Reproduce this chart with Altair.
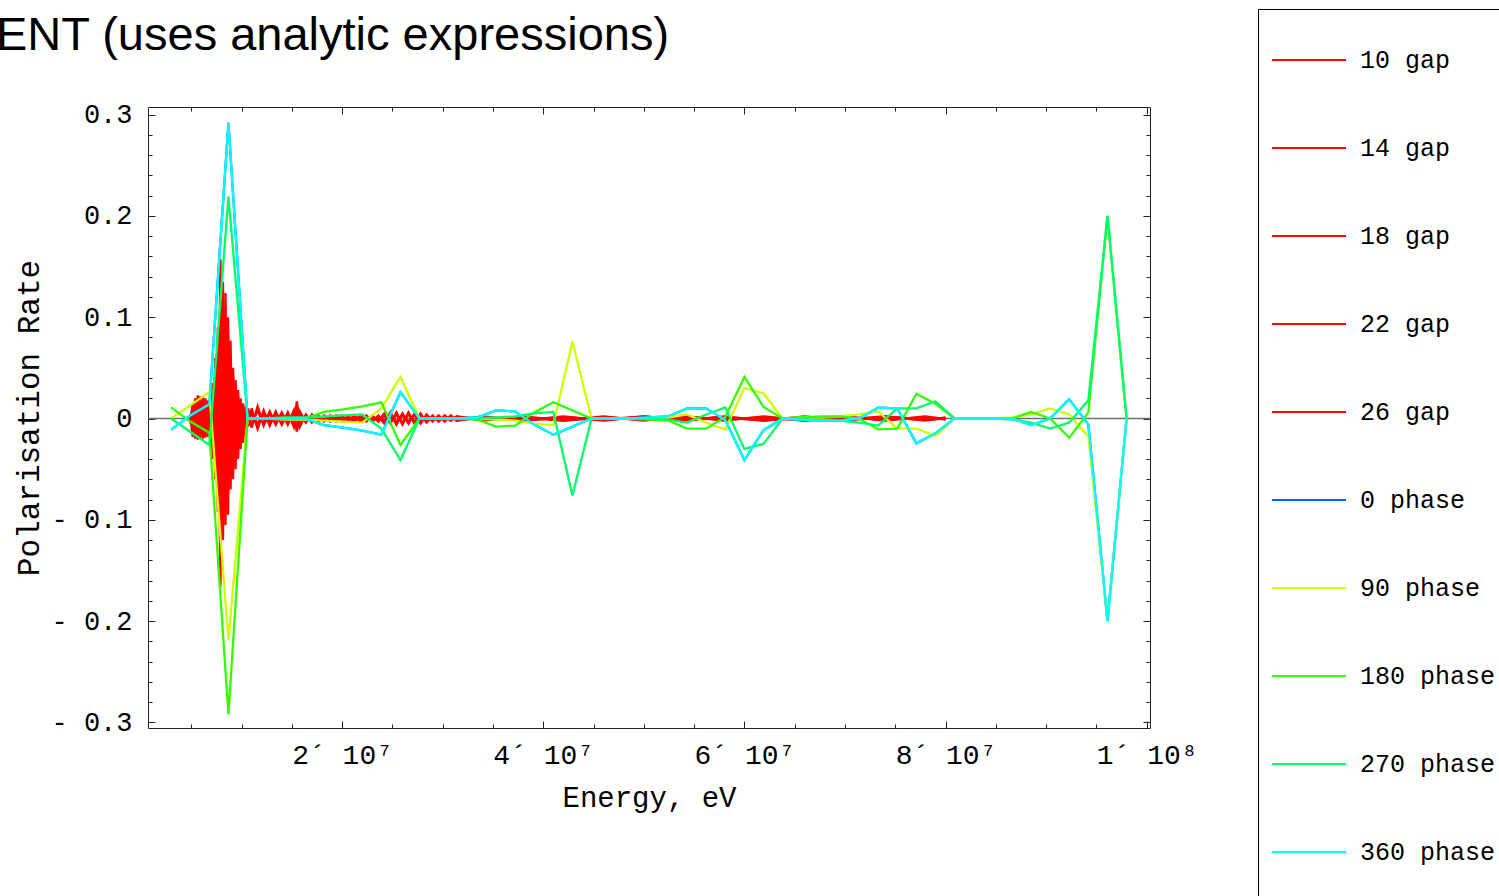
import altair as alt
import pandas as pd

# ---------------------------------------------------------------- data ----
# Phase scan: energy grid (MeV) and polarisation rate per phase setting
phase_energy_mev = [3.0, 4.9, 6.8, 8.7, 10.6, 12.5, 14.4, 16.3, 18.2, 20.1,
                    22.0, 23.9, 25.8, 27.7, 29.6, 31.5, 33.4, 35.3, 37.2, 39.1,
                    41.0, 42.9, 44.8, 46.7, 48.6, 50.5, 52.4, 54.3, 56.2, 58.1,
                    60.0, 61.9, 63.8, 65.7, 67.6, 69.5, 71.4, 73.3, 75.2, 77.1,
                    79.0, 80.9, 82.8, 84.7, 86.6, 88.5, 90.4, 92.3, 94.2, 96.1,
                    98.0]

phase_0 = [-0.011, 0.003, 0.014, 0.292, 0.0, 0.0, 0.0, 0.0, -0.0066, -0.009,
           -0.012, -0.016, 0.026, 0.0, 0.0, 0.0, 0.001, 0.008, 0.007, -0.006,
           -0.016, -0.008, 0.0, 0.0, 0.0, 0.001, 0.002, 0.010, 0.010, -0.0015,
           -0.041, -0.0115, 0.0, -0.001, -0.002, -0.002, 0.0, 0.0107, 0.010, -0.0245,
           -0.0146, 0.0, 0.0, 0.0, 0.0, -0.0064, 0.0, 0.019, -0.006, -0.200,
           0.0]
phase_90 = [0.0, 0.013, 0.026, -0.219, 0.0, 0.0, -0.001, -0.001, -0.002, -0.003,
            -0.004, 0.010, 0.041, 0.0, 0.0, 0.0, 0.0, -0.001, -0.002, -0.005,
            -0.0065, 0.076, 0.0, 0.0, 0.0, 0.0, 0.001, 0.004, -0.004, -0.011,
            0.030, 0.025, 0.0, 0.001, 0.001, 0.002, 0.004, 0.007, -0.010, -0.010,
            -0.017, 0.0, 0.0, 0.0, 0.001, 0.004, 0.010, 0.004, -0.018, -0.200,
            0.0]
phase_180 = [0.011, -0.003, -0.014, -0.292, 0.0, 0.0, 0.0, 0.0, 0.0066, 0.009,
             0.012, 0.016, -0.026, 0.0, 0.0, 0.0, -0.001, -0.008, -0.007, 0.006,
             0.016, 0.008, 0.0, 0.0, 0.0, -0.001, -0.002, -0.010, -0.010, 0.0015,
             0.041, 0.0115, 0.0, 0.001, 0.002, 0.002, 0.0, -0.0107, -0.010, 0.0245,
             0.0146, 0.0, 0.0, 0.0, 0.0, 0.0064, 0.0, -0.019, 0.006, 0.200,
             0.0]
phase_270 = [0.0, -0.013, -0.026, 0.219, 0.0, 0.0, 0.001, 0.001, 0.002, 0.003,
             0.004, -0.010, -0.041, 0.0, 0.0, 0.0, 0.0, 0.001, 0.002, 0.005,
             0.0065, -0.076, 0.0, 0.0, 0.0, 0.0, -0.001, -0.004, 0.004, 0.011,
             -0.030, -0.025, 0.0, -0.001, -0.001, -0.002, -0.004, -0.007, 0.010, 0.010,
             0.017, 0.0, 0.0, 0.0, -0.001, -0.004, -0.010, -0.004, 0.018, 0.200,
             0.0]
phase_360 = [-0.011, 0.003, 0.014, 0.292, 0.0, 0.0, 0.0, 0.0, -0.0066, -0.009,
             -0.012, -0.016, 0.026, 0.0, 0.0, 0.0, 0.001, 0.008, 0.007, -0.006,
             -0.016, -0.008, 0.0, 0.0, 0.0, 0.001, 0.002, 0.010, 0.010, -0.0015,
             -0.041, -0.0115, 0.0, -0.001, -0.002, -0.002, 0.0, 0.0107, 0.010, -0.0245,
             -0.0146, 0.0, 0.0, 0.0, 0.0, -0.0064, 0.0, 0.019, -0.006, -0.200,
             0.0]

# Gap scan: energy grid (MeV) and polarisation rate in units of 1e-3
gap_energy_burst = [4.90, 5.15, 5.40, 5.65, 5.90, 6.15, 6.40, 6.65, 6.90, 7.15,
                    7.40, 7.65, 7.90, 8.15, 8.40, 8.65, 8.90, 9.15, 9.40, 9.65,
                    9.90, 10.15, 10.40, 10.65]
gap_energy_mid = [11.0, 11.6, 12.2, 12.8, 13.4, 14.0, 14.6, 15.2, 15.5, 15.8,
                  16.4, 17.0, 17.6, 18.2, 18.8, 19.4, 20.0, 20.6, 21.2, 21.8,
                  22.4, 23.0, 23.6, 24.2, 24.8, 25.4, 26.0, 26.6, 27.2, 27.8,
                  28.4, 29.0, 29.6, 30.2, 30.8, 31.4]
gap_energy_tail = [34, 38, 42, 46, 50, 54, 58, 62, 66, 70, 74, 78, 80]
gap_energy_mev = gap_energy_burst + gap_energy_mid + gap_energy_tail

gap_10 = [3, -18, 20, -21, 22, -20, 20, -18, 17, -40, 60, -92, 157, -120, 124, -95,
          77, -60, 38, -40, 20, -24, 12, -8,
          10, -10, 8, -7, 7, -6, 6, -8, 17, -8, 4, -4, 3, -3, 3, -3, 3, -3, 3, -3,
          3, -3, 3, -5, 6, -6, 5, -5, 5, -5, 4, -3, 3, -3, 3, -2,
          2, -2, 2, -2, 2, -2, 2, -2, 2, -2, 2, -2, 1]
gap_14 = [-5, 15, -20, 23, -20, 21, -19, 18, -22, 35, -60, 90, -166, 135, -105, 100,
          -70, 50, -50, 28, -30, 15, -15, 10,
          -9, 12, -7, 7, -6, 6, -6, 8, -13, 7, -4, 4, -4, 3, -3, 3, -3, 2, -3, 3,
          -3, 3, -3, 5, -5, 6, -6, 6, -5, 5, -4, 3, -3, 3, -2, 2,
          -2, 2, -2, 2, -2, 2, -2, 2, -2, 2, -2, 2, -1]
gap_18 = [0, 10, -14, 16, -15, 14, -13, 12, -12, 25, -45, 70, -110, 110, -90, 85,
          -55, 45, -40, 22, -22, 12, -10, 6,
          7, -8, 6, -5, 5, -5, 4, -6, 12, -6, 3, -3, 2, -2, 2, -2, 2, -2, 2, -2,
          2, -2, 2, -4, 4, -4, 4, -4, 4, -4, 3, -2, 2, -2, 2, -2,
          1, -2, 1, -1, 2, -1, 1, -2, 1, -1, 2, -1, 0]
gap_22 = [4, -12, 15, -16, 17, -15, 16, -14, 12, -30, 45, -70, 120, -100, 100, -75,
          60, -45, 30, -30, 16, -18, 9, -6,
          -6, 8, -5, 5, -4, 4, -4, 5, -9, 5, -3, 3, -3, 2, -2, 2, -2, 2, -2, 2,
          -2, 2, -2, 3, -4, 4, -4, 4, -3, 3, -3, 2, -2, 2, -2, 2,
          -1, 1, -2, 1, -1, 2, -1, 1, -2, 1, -1, 1, 0]
gap_26 = [-3, 8, -10, 11, -10, 10, -10, 9, -8, 20, -30, 50, -80, 90, -70, 70,
          -45, 35, -30, 18, -20, 10, -10, 6,
          4, -5, 4, -3, 3, -3, 3, -4, 8, -4, 2, -2, 2, -1, 1, -1, 1, -1, 1, -1,
          1, -1, 1, -2, 3, -3, 3, -3, 3, -3, 2, -1, 1, -1, 1, -1,
          1, -1, 1, -1, 1, -1, 1, -1, 1, -1, 1, -1, 0]

gap_names = ["10 gap", "14 gap", "18 gap", "22 gap", "26 gap"]
gap_series = [gap_10, gap_14, gap_18, gap_22, gap_26]
phase_names = ["0 phase", "90 phase", "180 phase", "270 phase", "360 phase"]
phase_series = [phase_0, phase_90, phase_180, phase_270, phase_360]

series_colors = ["#ff0000", "#ff0000", "#ff0000", "#ff0000", "#ff0000",
                 "#0066ff", "#ccff00", "#33ff00", "#00ff66", "#00ffff"]

# axis ticks and labels
x_major = [2e7, 4e7, 6e7, 8e7, 1e8]
x_major_labels = ["2´ 10⁷", "4´ 10⁷", "6´ 10⁷", "8´ 10⁷", "1´ 10⁸"]
x_minor = [5e6 * i for i in range(1, 21) if i % 4 != 0]
y_major = [-0.3, -0.2, -0.1, 0.0, 0.1, 0.2, 0.3]
y_major_labels = ["- 0.3", "- 0.2", "- 0.1", "0", "0.1", "0.2", "0.3"]
y_minor = [round(-0.3 + 0.02 * i, 2) for i in range(31) if i % 5 != 0]

# --------------------------------------------------------------- tables ----
gap_rows = []
for name, vals in zip(gap_names, gap_series):
    for i, (e, v) in enumerate(zip(gap_energy_mev, vals)):
        gap_rows.append({"E": e * 1e6, "v": v / 1000.0, "series": name, "i": i})
gap_df = pd.DataFrame(gap_rows)

phase_dfs = []
for name, vals in zip(phase_names, phase_series):
    phase_dfs.append(pd.DataFrame({
        "E": [e * 1e6 for e in phase_energy_mev],
        "v": vals,
        "series": name,
        "i": list(range(len(vals))),
    }))

# ------------------------------------------------------------- styling ----
MONO = "Liberation Mono"
x_scale = alt.Scale(domain=[7e5, 1.0033e8], nice=False, zero=False)
y_scale = alt.Scale(domain=[-0.3055, 0.3075], nice=False, zero=False)
color_scale = alt.Scale(domain=gap_names + phase_names, range=series_colors)


def label_expr(values, labels):
    expr = "''"
    span = max(abs(v) for v in values)
    for val, lab in reversed(list(zip(values, labels))):
        expr = f"abs(datum.value - ({val})) < 1e-9 * {span} ? '{lab}' : {expr}"
    return expr


x_main_axis = alt.Axis(
    orient="bottom", values=x_major, labelExpr=label_expr(x_major, x_major_labels),
    ticks=False, domain=False, grid=False,
    labelFont=MONO, labelFontSize=28, labelColor="black", labelPadding=13,
    labelFlush=False, labelOverlap=False,
    title="Energy, eV", titleFont=MONO, titleFontSize=29, titleFontWeight="normal",
    titleColor="black", titlePadding=14,
)
y_main_axis = alt.Axis(
    orient="left", values=y_major, labelExpr=label_expr(y_major, y_major_labels),
    ticks=False, domain=False, grid=False,
    labelFont=MONO, labelFontSize=27, labelColor="black", labelPadding=16,
    labelFlush=False, labelOverlap=False,
    title="Polarisation Rate", titleFont=MONO, titleFontSize=31,
    titleFontWeight="normal", titleColor="black", titlePadding=5,
)


def tick_axis(orient, values, size):
    # ticks drawn inward from the frame: axis pulled inside by its own tick length
    return alt.Axis(orient=orient, values=values, offset=-size, tickSize=size,
                    tickColor="#222222", tickWidth=1, labels=False, domain=False,
                    grid=False, title=None)


# the legend frame continues past the lower edge of the page, so a blank
# caption below the entries stretches it downwards
legend = alt.Legend(
    title=" ", titleOrient="bottom", titleFontSize=1, titlePadding=40,
    orient="none", legendX=1110, legendY=-98, direction="vertical",
    symbolType="stroke", symbolSize=5476, symbolStrokeWidth=2, symbolOpacity=1,
    labelFont=MONO, labelFontSize=25, labelColor="black", labelOffset=13,
    labelLimit=400, rowPadding=37, padding=13, strokeColor="black",
    fillColor="white", cornerRadius=0,
)

# -------------------------------------------------------------- layers ----
zero_line = alt.Chart(pd.DataFrame({"v": [0.0]})).mark_rule(
    color="#707070", strokeWidth=1.5
).encode(y=alt.Y("v:Q", scale=y_scale, axis=None))

gap_layer = alt.Chart(gap_df).mark_line(strokeWidth=2.4).encode(
    x=alt.X("E:Q", scale=x_scale, axis=x_main_axis),
    y=alt.Y("v:Q", scale=y_scale, axis=y_main_axis),
    color=alt.Color("series:N", scale=color_scale, legend=legend),
    order="i:Q",
)

phase_layers = [
    alt.Chart(df).mark_line(strokeWidth=2.3).encode(
        x=alt.X("E:Q", scale=x_scale, axis=None),
        y=alt.Y("v:Q", scale=y_scale, axis=None),
        color=alt.Color("series:N", scale=color_scale, legend=legend),
        order="i:Q",
    )
    for df in phase_dfs
]

tick_specs = [
    ("bottom", x_major, 7, "left", y_major, 7),
    ("bottom", x_minor, 4, "left", y_minor, 4),
    ("top", x_major, 7, "right", y_major, 7),
    ("top", x_minor, 4, "right", y_minor, 4),
]
tick_layers = [
    alt.Chart(phase_dfs[0]).mark_point(opacity=0).encode(
        x=alt.X("E:Q", scale=x_scale, axis=tick_axis(xo, xv, xs)),
        y=alt.Y("v:Q", scale=y_scale, axis=tick_axis(yo, yv, ys)),
    )
    for xo, xv, xs, yo, yv, ys in tick_specs
]

chart = (
    alt.layer(zero_line, gap_layer, *phase_layers, *tick_layers)
    .resolve_axis(x="independent", y="independent")
    .properties(
        width=1002,
        height=621,
        padding={"left": 148, "top": 107, "right": 349, "bottom": 168},
        autosize=alt.AutoSizeParams(type="none"),
        background="white",
        title=alt.Title(
            "ENT (uses analytic expressions)", anchor="start", frame="group",
            dx=-152, offset=0, dy=88, baseline="alphabetic", font="Liberation Sans",
            fontSize=47, fontWeight="normal", color="black",
        ),
    )
    .configure_view(stroke="#222222", strokeWidth=1)
)

chart.save("out.html", embed_options={"renderer": "svg", "actions": False})
